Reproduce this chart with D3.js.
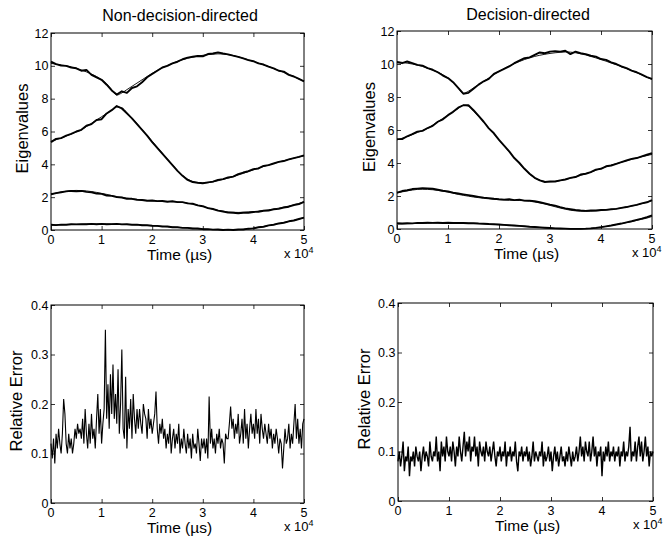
<!DOCTYPE html>
<html>
<head>
<meta charset="utf-8">
<script src="https://cdn.jsdelivr.net/npm/d3@7"></script>
<style>
    body { margin: 0; background: #fff; }
    svg { display: block; font-family: "Liberation Sans", Arial, Helvetica, sans-serif; }
    .tick-label { font-size: 12.5px; fill: #000; }
    .exp-label { font-size: 13px; fill: #000; }
    .x-label { font-size: 15.5px; fill: #000; }
    .y-label { font-size: 16.5px; fill: #000; }
    .title { font-size: 16px; fill: #000; }
</style>
</head>
<body>
<svg id="chart" width="664" height="540"></svg>
<script>
// time grid for the eigenvalue tracks (microseconds), one sample every 1000
const eigTime = d3.range(0, 50001, 1000);
// time grid for the relative error, one sample every 250
const errTime = d3.range(0, 50001, 250);

const xTicks = [0, 10000, 20000, 30000, 40000, 50000];
const xTickLabels = ['0', '1', '2', '3', '4', '5'];
const eigTicks = [0, 2, 4, 6, 8, 10, 12];
const eigTickLabels = ['0', '2', '4', '6', '8', '10', '12'];
const errTicks = [0, 0.1, 0.2, 0.3, 0.4];
const errTickLabels = ['0', '0.1', '0.2', '0.3', '0.4'];

// true eigenvalues (thin lines)
const trueEig1 = [10.15,10.1,10.05,10.0,9.93,9.85,9.75,9.63,9.5,9.35,9.15,8.9,8.55,8.22,8.35,8.55,8.75,8.95,9.15,9.35,9.55,9.72,9.88,10.02,10.15,10.27,10.37,10.46,10.53,10.59,10.64,10.68,10.71,10.73,10.72,10.68,10.62,10.55,10.46,10.37,10.27,10.17,10.06,9.95,9.84,9.72,9.6,9.47,9.34,9.2,9.06];
const trueEig2 = [5.4,5.5,5.6,5.72,5.85,5.97,6.1,6.3,6.5,6.7,6.9,7.1,7.3,7.5,7.45,7.15,6.82,6.48,6.12,5.76,5.4,5.04,4.68,4.32,3.97,3.62,3.32,3.1,2.96,2.88,2.86,2.88,2.93,3.0,3.08,3.16,3.25,3.35,3.45,3.56,3.67,3.77,3.87,3.96,4.05,4.14,4.22,4.3,4.38,4.45,4.52];
const trueEig3 = [2.18,2.25,2.31,2.36,2.4,2.41,2.4,2.38,2.34,2.29,2.23,2.17,2.1,2.04,1.99,1.94,1.9,1.86,1.83,1.8,1.78,1.76,1.75,1.74,1.73,1.71,1.68,1.64,1.58,1.51,1.43,1.35,1.27,1.2,1.14,1.1,1.08,1.07,1.08,1.1,1.12,1.15,1.19,1.23,1.28,1.33,1.39,1.46,1.54,1.62,1.72];
const trueEig4 = [0.3,0.31,0.32,0.33,0.34,0.35,0.35,0.36,0.36,0.36,0.36,0.36,0.36,0.36,0.35,0.34,0.33,0.32,0.3,0.28,0.26,0.24,0.22,0.2,0.18,0.16,0.14,0.12,0.1,0.08,0.06,0.04,0.03,0.02,0.01,0.01,0.01,0.02,0.04,0.07,0.11,0.16,0.21,0.27,0.33,0.39,0.45,0.52,0.59,0.66,0.76];

// estimated eigenvalues, non-decision-directed
const ndEig1 = [10.25,10.1,10.02,10.0,9.9,9.85,9.7,9.75,9.45,9.3,9.15,8.85,8.5,8.25,8.45,8.35,8.65,8.75,9.0,9.3,9.5,9.7,9.9,10.0,10.15,10.25,10.4,10.5,10.55,10.6,10.58,10.72,10.75,10.82,10.75,10.7,10.62,10.55,10.45,10.35,10.28,10.15,10.08,9.95,9.85,9.7,9.65,9.45,9.35,9.2,9.05];
const ndEig2 = [5.35,5.55,5.6,5.75,5.85,6.0,6.1,6.35,6.45,6.7,6.75,7.1,7.3,7.55,7.4,7.1,6.8,6.45,6.1,5.75,5.35,5.0,4.65,4.3,3.95,3.6,3.3,3.05,2.92,2.88,2.85,2.9,2.95,3.05,3.1,3.2,3.25,3.4,3.5,3.58,3.7,3.75,3.9,3.95,4.05,4.15,4.2,4.3,4.38,4.45,4.55];
const ndEig3 = [2.18,2.25,2.3,2.35,2.38,2.36,2.38,2.32,2.3,2.22,2.2,2.1,2.08,2.0,1.98,1.9,1.9,1.84,1.83,1.78,1.8,1.76,1.77,1.72,1.75,1.7,1.7,1.62,1.6,1.5,1.45,1.33,1.28,1.18,1.13,1.06,1.05,1.02,1.05,1.05,1.1,1.11,1.17,1.19,1.26,1.29,1.37,1.42,1.52,1.58,1.72];
const ndEig4 = [0.32,0.3,0.33,0.32,0.35,0.34,0.36,0.35,0.37,0.35,0.37,0.35,0.36,0.37,0.34,0.35,0.32,0.33,0.29,0.29,0.26,0.25,0.21,0.21,0.17,0.17,0.13,0.13,0.09,0.09,0.05,0.05,0.02,0.03,0.0,0.02,0.0,0.03,0.03,0.08,0.1,0.17,0.2,0.28,0.32,0.4,0.44,0.53,0.58,0.67,0.75];

// estimated eigenvalues, decision-directed
const ddEig1 = [10.1,10.05,10.15,10.05,9.95,9.9,9.75,9.65,9.5,9.3,9.15,8.9,8.55,8.2,8.25,8.5,8.75,8.95,9.1,9.4,9.55,9.7,9.85,10.05,10.2,10.35,10.4,10.55,10.7,10.65,10.75,10.78,10.75,10.8,10.6,10.75,10.65,10.6,10.5,10.45,10.3,10.25,10.1,10.0,9.85,9.75,9.6,9.5,9.35,9.2,9.1];
const ddEig2 = [5.45,5.45,5.62,5.75,5.9,5.95,6.12,6.25,6.5,6.65,6.9,7.1,7.35,7.5,7.5,7.2,6.85,6.5,6.1,5.8,5.4,5.05,4.7,4.3,4.0,3.65,3.35,3.1,2.95,2.85,2.88,2.88,2.95,3.0,3.1,3.15,3.3,3.35,3.45,3.6,3.65,3.8,3.85,3.95,4.05,4.15,4.25,4.3,4.4,4.5,4.6];
const ddEig3 = [2.2,2.3,2.35,2.42,2.45,2.48,2.46,2.44,2.38,2.32,2.28,2.2,2.15,2.1,2.05,2.0,1.95,1.9,1.87,1.83,1.8,1.78,1.8,1.75,1.78,1.72,1.72,1.68,1.62,1.55,1.48,1.42,1.33,1.25,1.2,1.15,1.12,1.1,1.12,1.12,1.15,1.16,1.2,1.22,1.28,1.33,1.4,1.46,1.55,1.62,1.75];
const ddEig4 = [0.35,0.33,0.35,0.34,0.37,0.36,0.38,0.37,0.38,0.36,0.38,0.36,0.37,0.36,0.35,0.35,0.33,0.32,0.3,0.29,0.27,0.25,0.23,0.21,0.19,0.17,0.14,0.12,0.1,0.08,0.06,0.04,0.03,0.02,0.01,0.01,0.01,0.02,0.04,0.07,0.11,0.16,0.21,0.27,0.33,0.4,0.47,0.55,0.63,0.72,0.82];

// relative error, non-decision-directed
const ndError = [
    0.12,0.09,0.13,0.08,0.14,0.11,0.15,0.12,0.10,0.14,
    0.21,0.18,0.12,0.10,0.14,0.11,0.13,0.10,0.12,0.15,
    0.13,0.16,0.14,0.15,0.13,0.17,0.12,0.19,0.14,0.11,
    0.16,0.12,0.18,0.13,0.15,0.11,0.17,0.22,0.14,0.19,
    0.12,0.16,0.19,0.35,0.17,0.24,0.15,0.26,0.18,0.28,
    0.17,0.22,0.16,0.27,0.14,0.20,0.31,0.15,0.13,0.255,
    0.11,0.19,0.15,0.21,0.13,0.22,0.17,0.14,0.19,0.15,
    0.19,0.16,0.14,0.20,0.18,0.17,0.13,0.19,0.15,0.17,
    0.14,0.16,0.18,0.225,0.15,0.12,0.16,0.14,0.17,0.13,
    0.15,0.11,0.14,0.12,0.16,0.10,0.13,0.15,0.11,0.14,
    0.12,0.16,0.10,0.13,0.11,0.15,0.12,0.10,0.14,0.11,
    0.13,0.09,0.14,0.11,0.12,0.10,0.15,0.12,0.085,0.13,
    0.11,0.13,0.10,0.13,0.09,0.215,0.12,0.15,0.11,0.13,
    0.10,0.14,0.12,0.15,0.11,0.13,0.12,0.08,0.14,0.13,
    0.13,0.16,0.195,0.15,0.17,0.13,0.16,0.14,0.18,0.12,
    0.14,0.17,0.12,0.19,0.13,0.16,0.11,0.15,0.18,0.14,
    0.16,0.13,0.19,0.14,0.17,0.12,0.18,0.15,0.13,0.16,
    0.14,0.12,0.16,0.13,0.15,0.11,0.14,0.12,0.15,0.13,
    0.10,0.13,0.12,0.07,0.11,0.15,0.12,0.13,0.16,0.11,
    0.14,0.12,0.16,0.20,0.13,0.17,0.12,0.15,0.11,0.16,
    0.17
];

// relative error, decision-directed
const ddError = [
    0.08,0.10,0.07,0.09,0.12,0.06,0.09,0.08,0.11,0.05,
    0.09,0.08,0.10,0.07,0.11,0.09,0.08,0.10,0.06,0.09,
    0.11,0.08,0.10,0.09,0.07,0.12,0.09,0.08,0.10,0.09,
    0.13,0.08,0.10,0.06,0.12,0.09,0.11,0.08,0.13,0.10,
    0.09,0.11,0.08,0.12,0.10,0.07,0.11,0.09,0.13,0.10,
    0.08,0.11,0.14,0.09,0.12,0.10,0.13,0.08,0.11,0.10,
    0.13,0.09,0.11,0.07,0.12,0.10,0.09,0.11,0.08,0.12,
    0.10,0.09,0.11,0.08,0.10,0.12,0.09,0.07,0.10,0.09,
    0.11,0.08,0.10,0.09,0.12,0.07,0.10,0.09,0.11,0.08,
    0.10,0.09,0.12,0.08,0.06,0.10,0.09,0.11,0.08,0.10,
    0.09,0.11,0.08,0.10,0.07,0.09,0.12,0.08,0.10,0.09,
    0.08,0.10,0.09,0.12,0.07,0.10,0.08,0.09,0.11,0.08,
    0.10,0.06,0.09,0.11,0.08,0.10,0.07,0.09,0.11,0.08,
    0.09,0.07,0.10,0.08,0.11,0.09,0.07,0.10,0.08,0.09,
    0.11,0.08,0.10,0.13,0.09,0.11,0.08,0.12,0.10,0.09,
    0.12,0.08,0.10,0.13,0.09,0.11,0.07,0.10,0.09,0.11,
    0.05,0.10,0.08,0.11,0.09,0.12,0.08,0.10,0.09,0.11,
    0.08,0.10,0.09,0.11,0.07,0.10,0.09,0.12,0.08,0.10,
    0.09,0.11,0.15,0.08,0.10,0.09,0.12,0.08,0.11,0.13,
    0.09,0.12,0.08,0.10,0.13,0.09,0.11,0.07,0.10,0.09,
    0.10
];

(function () {
    const svg = d3.select('#chart');
    const TICK = 4;

    const panels = [
        {
            box: [51, 33, 304, 230], title: 'Non-decision-directed', titleX: 180, titleY: 21,
            yLabel: 'Eigenvalues', yLabelX: 22, yDomain: [0, 12], yTicks: eigTicks, yTickLabels: eigTickLabels,
            truth: [trueEig1, trueEig2, trueEig3, trueEig4], est: [ndEig1, ndEig2, ndEig3, ndEig4]
        },
        {
            box: [397, 31, 652, 229], title: 'Decision-directed', titleX: 528, titleY: 19.5,
            yLabel: 'Eigenvalues', yLabelX: 369, yDomain: [0, 12], yTicks: eigTicks, yTickLabels: eigTickLabels,
            truth: [trueEig1, trueEig2, trueEig3, trueEig4], est: [ddEig1, ddEig2, ddEig3, ddEig4]
        },
        {
            box: [51, 305, 304, 503],
            yLabel: 'Relative Error', yLabelX: 16, yDomain: [0, 0.4], yTicks: errTicks, yTickLabels: errTickLabels,
            error: ndError, errWidth: 1.1
        },
        {
            box: [398, 303, 653, 501],
            yLabel: 'Relative Error', yLabelX: 364, yDomain: [0, 0.4], yTicks: errTicks, yTickLabels: errTickLabels,
            error: ddError, errWidth: 1.4
        }
    ];

    function drawPanel(p) {
        const [x0, y0, x1, y1] = p.box;
        const x = d3.scaleLinear().domain([0, 50000]).range([x0, x1]);
        const y = d3.scaleLinear().domain(p.yDomain).range([y1, y0]);
        const g = svg.append('g');

        // data lines first, box on top
        if (p.truth) {
            const line = d3.line()
                .x((d, i) => x(eigTime[i]))
                .y(d => y(d));
            p.truth.forEach(vals => {
                g.append('path')
                    .attr('d', line.curve(d3.curveMonotoneX)(vals))
                    .attr('fill', 'none')
                    .attr('stroke', '#000')
                    .attr('stroke-width', 0.9);
            });
            p.est.forEach(vals => {
                g.append('path')
                    .attr('d', line.curve(d3.curveLinear)(vals))
                    .attr('fill', 'none')
                    .attr('stroke', '#000')
                    .attr('stroke-width', 1.9)
                    .attr('stroke-linejoin', 'round');
            });
        }
        if (p.error) {
            const line = d3.line()
                .x((d, i) => x(errTime[i]))
                .y(d => y(d));
            g.append('path')
                .attr('d', line(p.error))
                .attr('fill', 'none')
                .attr('stroke', '#000')
                .attr('stroke-width', p.errWidth);
        }

        // inward ticks on all four sides, MATLAB style; labels drawn separately
        const axes = [
            g.append('g').attr('transform', `translate(0,${y1})`)
                .call(d3.axisBottom(x).tickValues(xTicks).tickSizeInner(-TICK).tickSizeOuter(0).tickFormat('')),
            g.append('g').attr('transform', `translate(0,${y0})`)
                .call(d3.axisTop(x).tickValues(xTicks).tickSizeInner(-TICK).tickSizeOuter(0).tickFormat('')),
            g.append('g').attr('transform', `translate(${x0},0)`)
                .call(d3.axisLeft(y).tickValues(p.yTicks).tickSizeInner(-TICK).tickSizeOuter(0).tickFormat('')),
            g.append('g').attr('transform', `translate(${x1},0)`)
                .call(d3.axisRight(y).tickValues(p.yTicks).tickSizeInner(-TICK).tickSizeOuter(0).tickFormat(''))
        ];
        axes.forEach(a => {
            a.selectAll('.domain').remove();
            a.selectAll('text').remove();
            a.selectAll('line').attr('stroke', '#000').attr('stroke-width', 0.8);
        });

        g.selectAll('.xt')
            .data(xTicks)
            .enter().append('text')
            .attr('class', 'tick-label')
            .attr('x', d => x(d))
            .attr('y', y1 + 14)
            .attr('text-anchor', 'middle')
            .text((d, i) => xTickLabels[i]);

        g.selectAll('.yt')
            .data(p.yTicks)
            .enter().append('text')
            .attr('class', 'tick-label')
            .attr('x', x0 - 2.5)
            .attr('y', d => y(d))
            .attr('dy', '0.36em')
            .attr('text-anchor', 'end')
            .text((d, i) => p.yTickLabels[i]);

        g.append('rect')
            .attr('x', x0).attr('y', y0)
            .attr('width', x1 - x0).attr('height', y1 - y0)
            .attr('fill', 'none').attr('stroke', '#000').attr('stroke-width', 1);

        // axis labels
        g.append('text').attr('class', 'x-label')
            .attr('x', (x0 + x1) / 2 + 2).attr('y', y1 + 30)
            .attr('text-anchor', 'middle')
            .text('Time (\u00b5s)');

        const exp = g.append('text').attr('class', 'exp-label')
            .attr('x', x1 - 20).attr('y', y1 + 28);
        exp.append('tspan').text('x 10');
        exp.append('tspan').attr('dy', -5).attr('font-size', '9px').text('4');

        g.append('text').attr('class', 'y-label')
            .attr('transform', `translate(${p.yLabelX},${(y0 + y1) / 2 - 3}) rotate(-90)`)
            .attr('text-anchor', 'middle')
            .attr('dy', '0.36em')
            .text(p.yLabel);

        if (p.title) {
            g.append('text').attr('class', 'title')
                .attr('x', p.titleX).attr('y', p.titleY)
                .attr('text-anchor', 'middle')
                .text(p.title);
        }
    }

    panels.forEach(drawPanel);
})();
</script>
</body>
</html>
